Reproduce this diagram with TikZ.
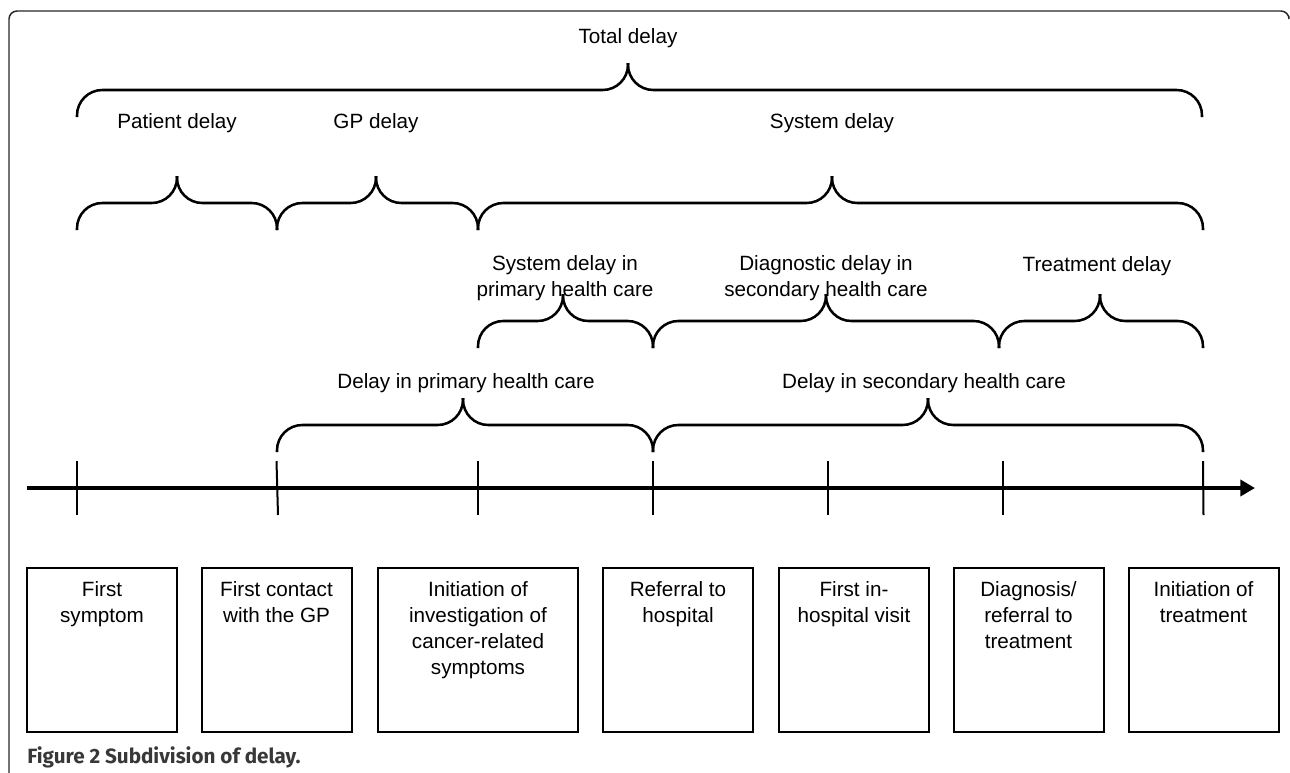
\documentclass[tikz,border=0pt]{standalone}
\usepackage{fontspec}
\setmainfont{Liberation Sans}
\newfontfamily\capfont{Fira Sans}
\usepackage{tikz}
\usetikzlibrary{arrows.meta}

% curly brace: left end, tip, right end, y of the two ends
\newcommand{\delaybrace}[4]{%
  \draw[brace] (#1,#4) -- (#1,{#4-27}) -- (#2,{#4-27}) -- (#2,{#4-54});
  \draw[brace] (#2,{#4-54}) -- (#2,{#4-27}) -- (#3,{#4-27}) -- (#3,#4);
}

\begin{document}
\begin{tikzpicture}[x=0.75pt, y=-0.75pt,
  brace/.style={line width=1.9pt, rounded corners=19pt},
  tick/.style={line width=1.5pt},
  lbl/.style={font=\fontsize{15.5}{19.5}\selectfont, align=center, inner sep=0pt},
  box/.style={draw, line width=1.5pt, minimum width=112.5pt, minimum height=123pt, inner sep=0pt},
  boxtext/.style={lbl, anchor=north}]
\useasboundingbox (0,0) rectangle (1290,772);
%% frame
\draw[line width=1.1pt, black!85, rounded corners=6pt] (9,775) -- (9,11) -- (1289,11) -- (1289,16);

%% time axis
\draw[line width=3.4pt, -{Triangle[length=11pt,width=12pt]}] (27,488) -- (1255,488);
\draw[tick] (77,461) -- (77,515);
\draw[tick] (276.5,461) -- (278,515);
\draw[tick] (478,461) -- (478,515);
\draw[tick] (653,461) -- (653,515);
\draw[tick] (828,461) -- (828,515);
\draw[tick] (1003,461) -- (1003,515);
\draw[tick] (1203,461) -- (1203.5,515);

%% braces
\delaybrace{77}{628}{1202}{117}
\delaybrace{77}{177}{277}{230}
\delaybrace{277}{376}{478}{230}
\delaybrace{478}{832}{1203}{230}
\delaybrace{478}{563}{653}{348}
\delaybrace{653}{826}{999}{348}
\delaybrace{999}{1100}{1203}{348}
\delaybrace{277}{463}{653}{452}
\delaybrace{653}{928}{1203}{452}

%% brace labels
\node[lbl] (total) at (628,38) {Total delay};
\node[lbl] (patient) at (177,123) {Patient delay};
\node[lbl] (gp) at (376,123) {GP delay};
\node[lbl] (system) at (832,123) {System delay};
\node[lbl] (sysprim) at (565,278) {System delay in\\primary health care};
\node[lbl] (diagsec) at (826,278) {Diagnostic delay in\\secondary health care};
\node[lbl] (treat) at (1097,266) {Treatment delay};
\node[lbl] (prim) at (466,383) {Delay in primary health care};
\node[lbl] (sec) at (924,383) {Delay in secondary health care};

%% events
\node[box] (b1) at (102,650) {};
\node[box] (b2) at (276.5,650) {};
\node[box, minimum width=150pt] (b3) at (478,650) {};
\node[box] (b4) at (678,650) {};
\node[box] (b5) at (854,650) {};
\node[box] (b6) at (1028.5,650) {};
\node[box] (b7) at (1203.5,650) {};
\node[boxtext] (t1) at ([yshift=-11pt]b1.north) {First\\symptom};
\node[boxtext] (t2) at ([yshift=-11pt]b2.north) {First contact\\with the GP};
\node[boxtext] (t3) at ([yshift=-11pt]b3.north) {Initiation of\\investigation of\\cancer-related\\symptoms};
\node[boxtext] (t4) at ([yshift=-11pt]b4.north) {Referral to\\hospital};
\node[boxtext] (t5) at ([yshift=-11pt]b5.north) {First in-\\hospital visit};
\node[boxtext] (t6) at ([yshift=-11pt]b6.north) {Diagnosis/\\referral to\\treatment};
\node[boxtext] (t7) at ([yshift=-11pt]b7.north) {Initiation of\\treatment};

%% caption
\node[anchor=base west, inner sep=0pt, text=black!78, font=\capfont\bfseries\fontsize{15.5}{18}\selectfont] (cap) at (27,763) {Figure 2 Subdivision of delay.};
\end{tikzpicture}
\end{document}
